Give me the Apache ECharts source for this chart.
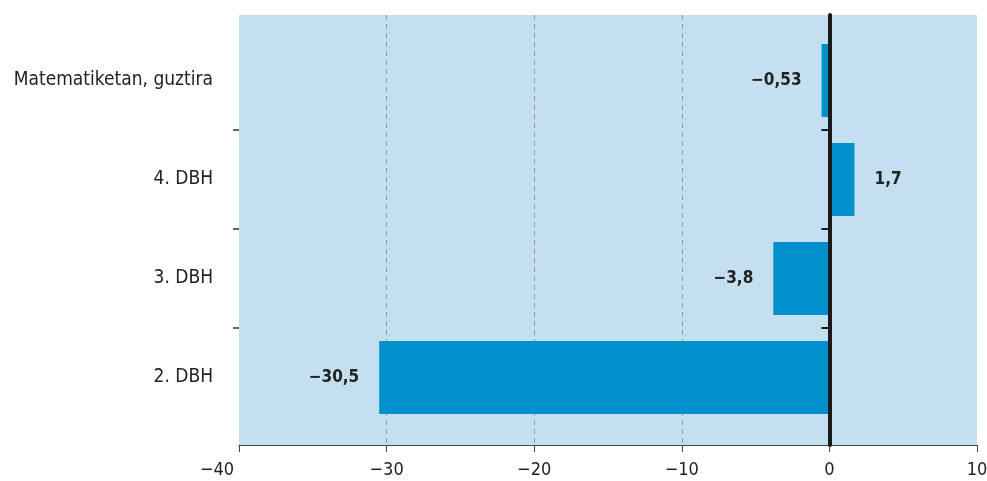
<!DOCTYPE html>
<html><head><meta charset="utf-8">
<script src="https://cdn.jsdelivr.net/npm/echarts@6/dist/echarts.min.js"></script>
<style>html,body{margin:0;padding:0;background:#fff}#c{width:987px;height:481px}</style>
</head><body><div id="c"></div>
<script>
const categories = ["2. DBH", "3. DBH", "4. DBH", "Matematiketan, guztira"];
const values = [-30.5, -3.8, 1.7, -0.53];
const xTicks = [-40, -30, -20, -10, 0, 10];
const bandTicks = [1, 2, 3];

const FONT = "'Liberation Sans Narrow','DejaVu Sans Condensed','Roboto',sans-serif";
const fmt = v => (v < 0 ? "\u2212" : "") + String(Math.abs(v)).replace(".", ",");
const XMIN = xTicks[0], XMAX = xTicks[xTicks.length - 1];

const chart = echarts.init(document.getElementById('c'), null, {renderer: 'canvas'});
chart.setOption({
  animation: false,
  grid: [
    {left: 239, right: 10, top: 15, bottom: 36, show: true, backgroundColor: '#c3dff0', borderWidth: 0, containLabel: false, outerBoundsMode: 'none'},
    {left: 239, right: 10, top: 31, bottom: 54, show: false, containLabel: false, outerBoundsMode: 'none'}
  ],
  xAxis: [{
    gridIndex: 0, type: 'value', min: XMIN, max: XMAX, interval: 10,
    axisLine: {show: true, onZero: false, lineStyle: {color: '#444', width: 1}},
    axisTick: {show: true, length: 7, lineStyle: {color: '#444', width: 1}},
    axisLabel: {
      fontFamily: FONT, fontSize: 18, color: '#222', margin: 16,
      formatter: v => v === XMIN ? '{s|' + fmt(v) + '}' : fmt(v),
      rich: {s: {fontFamily: FONT, fontSize: 18, color: '#222', padding: [0, 44, 0, 0]}}
    },
    splitLine: {show: true, lineStyle: {type: [5, 4], width: 1, color: ['transparent', '#9a9a9a', '#9a9a9a', '#9a9a9a', 'transparent', 'transparent']}}
  }, {
    gridIndex: 1, type: 'value', min: XMIN, max: XMAX, interval: 10, show: false
  }],
  yAxis: [{
    gridIndex: 0, type: 'value', min: 0, max: 1, z: 10,
    axisLine: {show: true, onZero: true, lineStyle: {color: '#1a1a1a', width: 4}},
    axisTick: {show: false}, axisLabel: {show: false}, splitLine: {show: false}
  }, {
    gridIndex: 1, type: 'category', data: categories,
    axisLine: {show: false, onZero: false},
    axisTick: {show: false},
    axisLabel: {fontFamily: FONT, fontSize: 19, color: '#222', margin: 26},
    splitLine: {show: false}
  }, {
    gridIndex: 1, type: 'value', min: 0, max: categories.length, position: 'left',
    axisLine: {show: false, onZero: false},
    axisTick: {show: true, length: 6, customValues: bandTicks, lineStyle: {color: '#333', width: 1.5}},
    axisLabel: {show: false}, splitLine: {show: false}
  }, {
    gridIndex: 1, type: 'value', min: 0, max: categories.length, position: 'left', z: 10,
    axisLine: {show: false, onZero: true},
    axisTick: {show: true, length: 8, customValues: bandTicks, lineStyle: {color: '#1a1a1a', width: 2}},
    axisLabel: {show: false}, splitLine: {show: false}
  }],
  series: [{
    type: 'bar', xAxisIndex: 1, yAxisIndex: 1,
    data: values.map(v => ({value: v, label: {position: v < 0 ? 'left' : 'right'}})),
    barWidth: 73,
    itemStyle: {color: '#0091cd'},
    label: {
      show: true, fontFamily: FONT, fontSize: 17, fontWeight: 'bold', color: '#222', distance: 20,
      formatter: p => fmt(p.value)
    }
  }]
});
</script></body></html>
